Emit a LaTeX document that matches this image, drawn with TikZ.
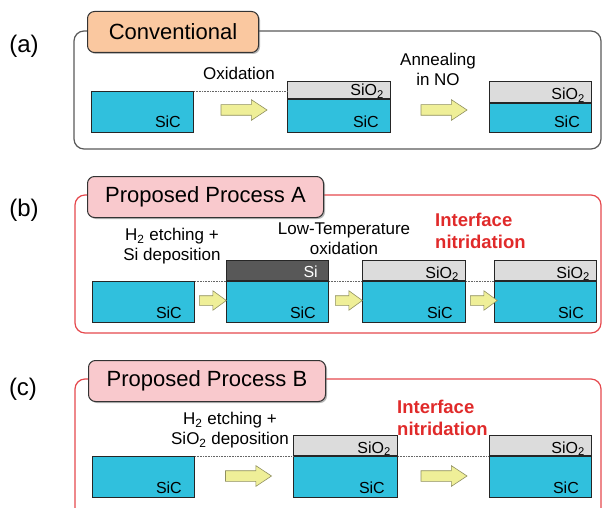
\documentclass[tikz,border=0pt]{standalone}
\usepackage{fontspec}
\setmainfont{Liberation Sans}
\usetikzlibrary{shapes.arrows,shadows}

\definecolor{sicblue}{HTML}{30C0DD}
\definecolor{oxgray}{HTML}{DCDCDC}
\definecolor{sigray}{HTML}{585858}
\definecolor{tabtan}{HTML}{FAC8A0}
\definecolor{tabpink}{HTML}{F9C9CD}
\definecolor{nitrred}{HTML}{E02A2A}
\definecolor{framered}{HTML}{E5484D}
\definecolor{arrowfill}{HTML}{EFEF98}
\definecolor{arrowedge}{HTML}{8F8F60}

\tikzset{
  layer/.style={draw=black!85, line width=1pt, inner sep=0pt, minimum width=102pt, anchor=south west},
  sic/.style={layer, fill=sicblue},
  oxide/.style={layer, fill=oxgray},
  silicon/.style={layer, fill=sigray},
  mat/.style={font=\fontsize{16}{16}\selectfont, anchor=base east, inner sep=0pt},
  proc/.style={font=\fontsize{17}{20}\selectfont, align=center, anchor=north, inner sep=0pt},
  nitr/.style={font=\bfseries\fontsize{18.5}{22}\selectfont, text=nitrred, align=left, anchor=north west, inner sep=0pt},
  fatarrow/.style={single arrow, draw=arrowedge, fill=arrowfill, line width=.6pt, inner xsep=0pt, inner ysep=5pt,
    minimum height=46pt, minimum width=20pt, single arrow head extend=5pt, single arrow tip angle=67},
  stubarrow/.style={fatarrow, inner ysep=4.5pt, minimum height=27pt, minimum width=19pt, single arrow head extend=5pt, single arrow tip angle=72},
  tab/.style={draw=black!80, line width=1pt, rounded corners=7pt, anchor=north west, minimum height=41pt,
    font=\fontsize{22}{22}\selectfont, drop shadow={shadow xshift=1.5pt, shadow yshift=-1.5pt, fill=black!55}},
  panel/.style={line width=1.2pt, rounded corners=10pt},
  part/.style={font=\fontsize{24}{24}\selectfont},
  level/.style={densely dotted, black!60, line width=.6pt}
}

\begin{document}
\begin{tikzpicture}[x=1pt,y=-1pt]
  \clip (0,0) rectangle (602,508);

  % (a) conventional oxidation + NO anneal
  \node[part] (pa) at (24,46) {(a)};
  \draw[panel, draw=black!65] (74,31) rectangle (601,149);
  \node[tab, fill=tabtan, minimum width=171pt] (taba) at (87,11) {Conventional};

  \node[sic, minimum height=41pt] (a1) at (91,133) {};
  \node[mat] (a1t) at ([xshift=-13pt, yshift=5pt]a1.south east) {SiC};

  \node[sic, minimum height=33pt, minimum width=103pt] (a2) at (287,133) {};
  \node[oxide, minimum height=17pt, minimum width=103pt] (a2o) at (a2.north west) {};
  \node[mat] (a2t) at ([xshift=-12pt, yshift=5pt]a2.south east) {SiC};
  \node[mat] (a2ot) at ([xshift=-7pt, yshift=3pt]a2o.south east) {SiO\textsubscript{2}};

  \node[sic, minimum height=29pt] (a3) at (489,133) {};
  \node[oxide, minimum height=21pt] (a3o) at (a3.north west) {};
  \node[mat] (a3t) at ([xshift=-12pt, yshift=5pt]a3.south east) {SiC};
  \node[mat] (a3ot) at ([xshift=-7pt, yshift=3pt]a3o.south east) {SiO\textsubscript{2}};

  \draw[level] (a1.north east) -- (a1.north east -| a2.west);
  \node[fatarrow] (arA1) at (240,110) {};
  \node[fatarrow] (arA2) at (440,110) {};
  \node[proc] (oxA) at (239,67) {Oxidation};
  \node[proc] (annA) at (438,53) {Annealing\\in NO};

  % (b) Si deposition, low-T oxidation, nitridation
  \node[part] (pb) at (24,210) {(b)};
  \draw[panel, draw=framered] (75,195) rectangle (601,333);
  \node[tab, fill=tabpink, minimum width=236pt] (tabb) at (87,176) {Proposed Process A};

  \node[sic, minimum height=41pt] (b1) at (92,323) {};
  \node[mat] (b1t) at ([xshift=-13pt, yshift=5pt]b1.south east) {SiC};

  \node[sic, minimum height=41pt] (b2) at (226,323) {};
  \node[silicon, minimum height=20pt] (b2s) at (b2.north west) {};
  \node[mat] (b2t) at ([xshift=-13pt, yshift=5pt]b2.south east) {SiC};
  \node[mat, text=white] (b2st) at ([xshift=-11pt, yshift=4pt]b2s.south east) {Si};

  \node[sic, minimum height=41pt, minimum width=103pt] (b3) at (362,323) {};
  \node[oxide, minimum height=20pt, minimum width=103pt] (b3o) at (b3.north west) {};
  \node[mat] (b3t) at ([xshift=-13pt, yshift=5pt]b3.south east) {SiC};
  \node[mat] (b3ot) at ([xshift=-7pt, yshift=3pt]b3o.south east) {SiO\textsubscript{2}};

  \node[sic, minimum height=41pt] (b4) at (494,323) {};
  \node[oxide, minimum height=20pt] (b4o) at (b4.north west) {};
  \node[mat] (b4t) at ([xshift=-13pt, yshift=5pt]b4.south east) {SiC};
  \node[mat] (b4ot) at ([xshift=-7pt, yshift=3pt]b4o.south east) {SiO\textsubscript{2}};

  \draw[level] (b1.north east) -- (b2.north west);
  \draw[level] (b2.north east) -- (b3.north west);
  \draw[level] (b3.north east) -- (b4.north west);
  \node[stubarrow] (arB1) at (209.5,300.5) {};
  \node[stubarrow] (arB2) at (345.5,300.5) {};
  \node[stubarrow] (arB3) at (480.5,300.5) {};
  \node[proc] (etchB) at (172,228) {H\textsubscript{2} etching +\\Si deposition};
  \node[proc] (ltoB) at (344,223) {Low-Temperature\\oxidation};
  \node[nitr] (nitB) at (435,213) {Interface\\nitridation};

  % (c) SiO2 deposition, nitridation
  \node[part] (pc) at (23,389) {(c)};
  \draw[panel, draw=framered] (75,379) rectangle (601,540);
  \node[tab, fill=tabpink, minimum width=237pt] (tabc) at (88,360) {Proposed Process B};

  \node[sic, minimum height=41pt] (c1) at (92,498) {};
  \node[mat] (c1t) at ([xshift=-13pt, yshift=5pt]c1.south east) {SiC};

  \node[sic, minimum height=41pt, minimum width=104pt] (c2) at (293,498) {};
  \node[oxide, minimum height=20pt, minimum width=104pt] (c2o) at (c2.north west) {};
  \node[mat] (c2t) at ([xshift=-13pt, yshift=5pt]c2.south east) {SiC};
  \node[mat] (c2ot) at ([xshift=-7pt, yshift=3pt]c2o.south east) {SiO\textsubscript{2}};

  \node[sic, minimum height=41pt] (c3) at (489,498) {};
  \node[oxide, minimum height=20pt] (c3o) at (c3.north west) {};
  \node[mat] (c3t) at ([xshift=-13pt, yshift=5pt]c3.south east) {SiC};
  \node[mat] (c3ot) at ([xshift=-7pt, yshift=3pt]c3o.south east) {SiO\textsubscript{2}};

  \draw[level] (c1.north east) -- (c2.north west);
  \draw[level] (c2.north east) -- (c3.north west);
  \node[fatarrow] (arC1) at (244.5,476) {};
  \node[fatarrow] (arC2) at (440,476) {};
  \node[proc] (etchC) at (230,412) {H\textsubscript{2} etching +\\SiO\textsubscript{2} deposition};
  \node[nitr] (nitC) at (397,400) {Interface\\nitridation};
\end{tikzpicture}
\end{document}
